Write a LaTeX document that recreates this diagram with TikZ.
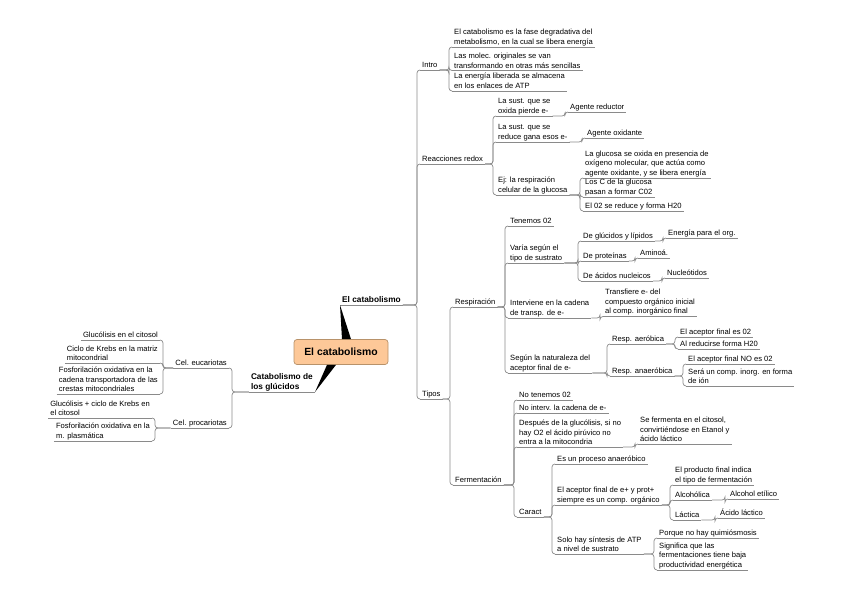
\documentclass[tikz,border=0pt]{standalone}
\usepackage{fontspec}
\setmainfont{Liberation Sans}
\usepackage{tikz}
\usetikzlibrary{calc}
\definecolor{Linea}{HTML}{8A8A8A}
\definecolor{Durazno}{HTML}{FDC898}
\definecolor{BordeDurazno}{HTML}{B8926A}
\newcommand{\txt}{\fontsize{7.6}{9.6}\selectfont}
\newcommand{\txtb}{\fontsize{8.3}{9.9}\selectfont\bfseries}
% rama hacia la derecha / hacia la izquierda
\newcommand{\ramad}[2]{\draw[rama] (#1.south east) -- ($(#1.south east -| #2.south west)+(-3,0)$) |- (#2.south west);}
\newcommand{\ramai}[2]{\draw[rama] (#1.south west) -- ($(#1.south west -| #2.south east)+(3,0)$) |- (#2.south east);}
\tikzset{
  tema/.style    = {anchor=south west, align=left, font=\txt, inner xsep=2pt,
                    inner ysep=1pt, execute at end node={\rule[-1.2pt]{0pt}{1pt}},
                    append after command={(\tikzlastnode.south west) edge[raya] (\tikzlastnode.south east)}},
  temai/.style   = {tema, anchor=south east},
  raya/.style    = {draw=Linea, line width=0.7pt},
  rama/.style    = {draw=Linea, line width=0.7pt, rounded corners=3pt},
  central/.style = {draw=BordeDurazno, fill=Durazno, rounded corners=3pt, line width=0.7pt,
                    font=\fontsize{10.4}{12}\selectfont\bfseries,
                    minimum width=94pt, minimum height=25pt},
  cuna/.style    = {fill=black},
}

\begin{document}
\begin{tikzpicture}[x=1pt,y=-1pt]
  \useasboundingbox (0,0) rectangle (848,599);

  % Centro
  \node[central] (centro) at (341,352) {El catabolismo};
  \node[tema, font=\txtb] (ppal) at (340,305) {El catabolismo};
  \node[temai, font=\txtb] (glu) at (315,392) {Catabolismo de\\los glúcidos};
  \fill[cuna] ($(centro.north)+(1,0)$) -- (ppal.south west) -- ($(centro.north)+(10,0)$) -- cycle;
  \fill[cuna] ($(centro.south)+(-14,0)$) -- (glu.south east) -- ($(centro.south)+(-5,0)$) -- cycle;

  % Intro
  \node[tema] (intro) at (420,70) {Intro};
  \node[tema] (i1) at (452,47) {El catabolismo es la fase degradativa del\\metabolismo, en la cual se libera energía};
  \node[tema] (i2) at (452,70.5) {Las molec. originales se van\\transformando en otras más sencillas};
  \node[tema] (i3) at (452,91) {La energía liberada se almacena\\en los enlaces de ATP};
  \ramad{ppal}{intro} \ramad{intro}{i1} \ramad{intro}{i2} \ramad{intro}{i3}

  % Reacciones redox
  \node[tema] (redox) at (420,164) {Reacciones redox};
  \node[tema] (r1) at (496,116) {La sust. que se\\oxida pierde e-};
  \node[tema] (r1a) at (568,112) {Agente reductor};
  \node[tema] (r2) at (496,142) {La sust. que se\\reduce gana esos e-};
  \node[tema] (r2a) at (585,138) {Agente oxidante};
  \node[tema] (r3) at (496,195) {Ej: la respiración\\celular de la glucosa};
  \node[tema] (r3a) at (583,178) {La glucosa se oxida en presencia de\\oxígeno molecular, que actúa como\\agente oxidante, y se libera energía};
  \node[tema] (r3b) at (583,197) {Los C de la glucosa\\pasan a formar C02};
  \node[tema] (r3c) at (583,211) {El 02 se reduce y forma H20};
  \ramad{ppal}{redox} \ramad{redox}{r1} \ramad{redox}{r2} \ramad{redox}{r3}
  \ramad{r1}{r1a} \ramad{r2}{r2a}
  \ramad{r3}{r3a} \ramad{r3}{r3b} \ramad{r3}{r3c}

  % Tipos: respiracion
  \node[tema] (tipos) at (420,399) {Tipos};
  \node[tema] (resp) at (453,307) {Respiración};
  \node[tema] (t1) at (508,226) {Tenemos 02};
  \node[tema] (t2) at (508,263) {Varía según el\\tipo de sustrato};
  \node[tema] (t2a) at (581,241) {De glúcidos y lípidos};
  \node[tema] (t2a1) at (666,238) {Energía para el org.};
  \node[tema] (t2b) at (581,261) {De proteínas};
  \node[tema] (t2b1) at (638,258) {Aminoá.};
  \node[tema] (t2c) at (581,281) {De ácidos nucleicos};
  \node[tema] (t2c1) at (665,278) {Nucleótidos};
  \node[tema] (t3) at (508,318) {Interviene en la cadena\\de transp. de e-};
  \node[tema] (t3a) at (603,316.5) {Transfiere e- del\\compuesto orgánico inicial\\al comp. inorgánico final};
  \node[tema] (t4) at (508,373) {Según la naturaleza del\\aceptor final de e-};
  \node[tema] (ae) at (610,344) {Resp. aeróbica};
  \node[tema] (ae1) at (678,337) {El aceptor final es 02};
  \node[tema] (ae2) at (678,349) {Al reducirse forma H20};
  \node[tema] (an) at (610,376) {Resp. anaeróbica};
  \node[tema] (an1) at (686,364) {El aceptor final NO es 02};
  \node[tema] (an2) at (686,386) {Será un comp. inorg. en forma\\de ión};
  \ramad{ppal}{tipos} \ramad{tipos}{resp}
  \ramad{resp}{t1} \ramad{resp}{t2} \ramad{resp}{t3} \ramad{resp}{t4}
  \ramad{t2}{t2a} \ramad{t2}{t2b} \ramad{t2}{t2c}
  \ramad{t2a}{t2a1} \ramad{t2b}{t2b1} \ramad{t2c}{t2c1}
  \ramad{t3}{t3a}
  \ramad{t4}{ae} \ramad{t4}{an}
  \ramad{ae}{ae1} \ramad{ae}{ae2} \ramad{an}{an1} \ramad{an}{an2}

  % Tipos: fermentacion
  \node[tema] (ferm) at (453,485) {Fermentación};
  \node[tema] (f1) at (517,400) {No tenemos 02};
  \node[tema] (f2) at (517,413) {No interv. la cadena de e-};
  \node[tema] (f3) at (517,447) {Después de la glucólisis, si no\\hay O2 el ácido pirúvico no\\entra a la mitocondria};
  \node[tema] (f3a) at (638,444) {Se fermenta en el citosol,\\convirtiéndose en Etanol y\\ácido láctico};
  \node[tema] (f4) at (517,517) {Caract};
  \node[tema] (c1) at (555,464) {Es un proceso anaeróbico};
  \node[tema] (c2) at (555,505) {El aceptor final de e+ y prot+\\siempre es un comp. orgánico};
  \node[tema] (c2a) at (673,485) {El producto final indica\\el tipo de fermentación};
  \node[tema] (c2b) at (673,500) {Alcohólica};
  \node[tema] (c2b1) at (728,499) {Alcohol etílico};
  \node[tema] (c2c) at (673,520) {Láctica};
  \node[tema] (c2c1) at (718,518) {Ácido láctico};
  \node[tema] (c3) at (555,554) {Solo hay síntesis de ATP\\a nivel de sustrato};
  \node[tema] (c3a) at (657,538) {Porque no hay quimiósmosis};
  \node[tema] (c3b) at (657,570) {Significa que las\\fermentaciones tiene baja\\productividad energética};
  \ramad{tipos}{ferm}
  \ramad{ferm}{f1} \ramad{ferm}{f2} \ramad{ferm}{f3} \ramad{ferm}{f4}
  \ramad{f3}{f3a}
  \ramad{f4}{c1} \ramad{f4}{c2} \ramad{f4}{c3}
  \ramad{c2}{c2a} \ramad{c2}{c2b} \ramad{c2}{c2c}
  \ramad{c2b}{c2b1} \ramad{c2c}{c2c1}
  \ramad{c3}{c3a} \ramad{c3}{c3b}

  % Catabolismo de los glucidos
  \node[temai] (euc) at (229,368) {Cel. eucariotas};
  \node[temai] (e1) at (160,340) {Glucólisis en el citosol};
  \node[temai] (e2) at (160,363) {Ciclo de Krebs en la matriz\\mitocondrial};
  \node[temai] (e3) at (160,394) {Fosforilación oxidativa en la\\cadena transportadora de las\\crestas mitocondriales};
  \node[temai] (pro) at (229,428) {Cel. procariotas};
  \node[temai] (p1) at (152,418) {Glucólisis + ciclo de Krebs en\\el citosol};
  \node[temai] (p2) at (152,441) {Fosforilación oxidativa en la\\m. plasmática};
  \ramai{glu}{euc} \ramai{glu}{pro}
  \ramai{euc}{e1} \ramai{euc}{e2} \ramai{euc}{e3}
  \ramai{pro}{p1} \ramai{pro}{p2}
\end{tikzpicture}
\end{document}
